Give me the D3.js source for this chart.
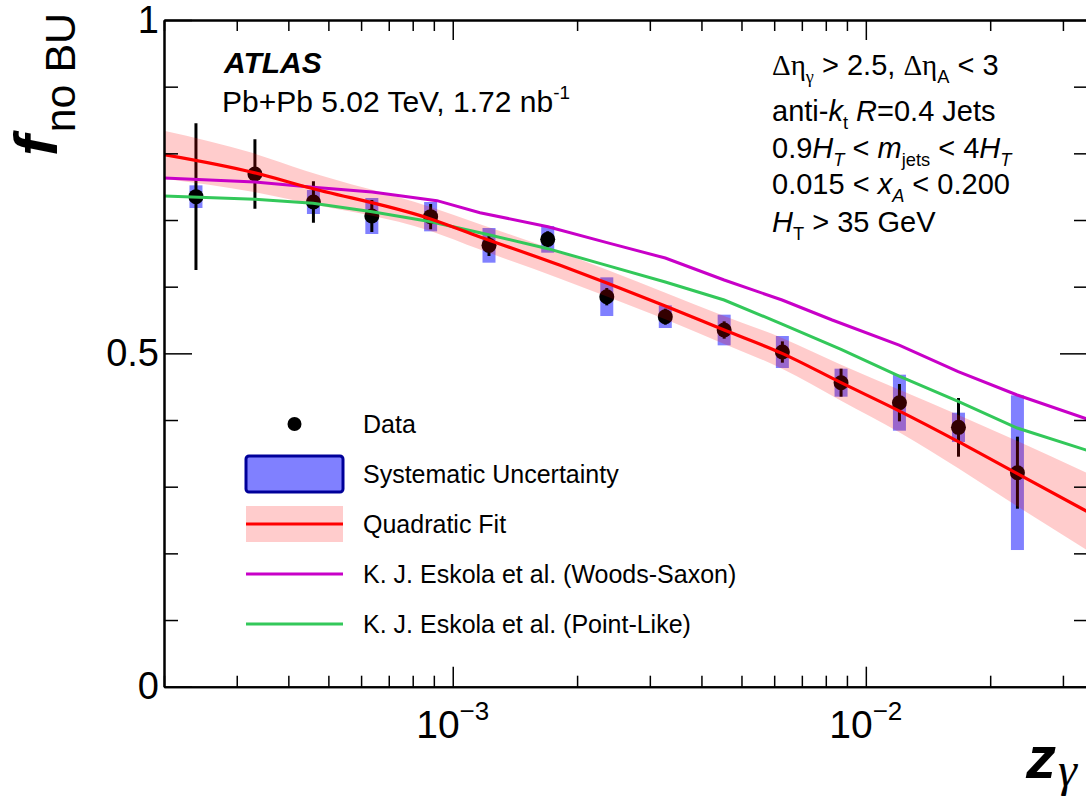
<!DOCTYPE html>
<html>
<head>
<meta charset="utf-8">
<script src="https://cdn.jsdelivr.net/npm/d3@7"></script>
<style>
  body { margin: 0; background: #fff; }
  svg { display: block; font-family: "Liberation Sans", Arial, Helvetica, sans-serif; }
</style>
</head>
<body>
<div id="chart"></div>
<script>
const zGamma  = [2.39e-4, 3.32e-4, 4.60e-4, 6.37e-4, 8.84e-4, 1.224e-3, 1.698e-3, 2.36e-3, 3.27e-3, 4.54e-3, 6.28e-3, 8.71e-3, 1.206e-2, 1.676e-2, 2.328e-2];
const fNoBU   = [0.735, 0.769, 0.727, 0.706, 0.705, 0.662, 0.671, 0.585, 0.555, 0.535, 0.502, 0.456, 0.426, 0.389, 0.321];
const statErr = [0.110, 0.052, 0.031, 0.024, 0.019, 0.016, 0.012, 0.013, 0.012, 0.013, 0.016, 0.021, 0.028, 0.044, 0.054];
const sysErr  = [0.017, 0.005, 0.018, 0.027, 0.022, 0.026, 0.020, 0.029, 0.017, 0.023, 0.024, 0.021, 0.042, 0.022, 0.116];

// quadratic fit curve + its band
const fitZ   = [2.0e-4, 3.3e-4, 4.4e-4, 8.8e-4, 1.16e-3, 1.82e-3, 2.37e-3, 3.27e-3, 4.54e-3, 6.27e-3, 8.71e-3, 1.21e-2, 1.67e-2, 2.32e-2, 3.45e-2];
const fitVal = [0.798, 0.771, 0.750, 0.702, 0.675, 0.632, 0.605, 0.571, 0.535, 0.500, 0.456, 0.413, 0.368, 0.320, 0.262];
const fitErr = [0.036, 0.029, 0.024, 0.018, 0.019, 0.020, 0.020, 0.020, 0.021, 0.023, 0.027, 0.032, 0.040, 0.049, 0.058];

// Eskola et al. predictions
const wsZ   = [2.0e-4, 3.32e-4, 4.59e-4, 6.38e-4, 9.16e-4, 1.164e-3, 1.70e-3, 2.40e-3, 3.27e-3, 4.54e-3, 6.27e-3, 8.29e-3, 1.204e-2, 1.673e-2, 2.325e-2, 3.45e-2];
const wsVal = [0.763, 0.757, 0.749, 0.742, 0.729, 0.711, 0.690, 0.665, 0.643, 0.610, 0.580, 0.550, 0.5125, 0.4725, 0.4375, 0.401];
const plZ   = [2.0e-4, 3.32e-4, 4.59e-4, 6.38e-4, 8.86e-4, 1.164e-3, 1.70e-3, 2.36e-3, 3.27e-3, 4.54e-3, 6.27e-3, 8.71e-3, 1.204e-2, 1.673e-2, 2.325e-2, 3.45e-2];
const plVal = [0.736, 0.731, 0.725, 0.7125, 0.6975, 0.681, 0.657, 0.632, 0.607, 0.580, 0.544, 0.506, 0.466, 0.428, 0.388, 0.354];

// axes
const xDomain = [2e-4, 0.0345];
const xMajor = [1e-3, 1e-2];
const xMajorBase = ["10", "10"];
const xMajorExp = ["\u22123", "\u22122"];
const yMajor = [0, 0.5, 1];
const yMajorLabels = ["0", "0.5", "1"];

const legendKeys = ["Data", "Systematic Uncertainty", "Quadratic Fit",
  "K. J. Eskola et al. (Woods-Saxon)", "K. J. Eskola et al. (Point-Like)"];

function richText(sel, x, y, size, parts) {
    const t = sel.append("text").attr("x", x).attr("y", y).style("font-size", size + "px");
    let shift = 0;
    parts.forEach(p => {
        const target = p.sub ? size * 0.26 : p.sup ? -size * 0.42 : 0;
        const s = t.append("tspan").text(p.t).attr("dy", target - shift);
        shift = target;
        if (p.sub || p.sup) s.style("font-size", (size * 0.63) + "px");
        if (p.it) s.style("font-style", "italic");
        if (p.b) s.style("font-weight", "bold");
        if (p.serif) s.style("font-family", "'Liberation Serif', 'DejaVu Serif', serif");
    });
    return t;
}

function drawChart() {
    const width = 1086, height = 798;
    const svg = d3.select("#chart").append("svg")
        .attr("width", width).attr("height", height);

    const left = 164, right = 1088, top = 20, bottom = 686.7;

    const x = d3.scaleLog().domain(xDomain).range([left, right]);
    const y = d3.scaleLinear().domain([0, 1]).range([bottom, top]);

    svg.append("clipPath").attr("id", "plotclip")
      .append("rect")
        .attr("x", left).attr("y", top)
        .attr("width", right - left).attr("height", bottom - top);

    const plot = svg.append("g").attr("clip-path", "url(#plotclip)");

    const pts = zGamma.map((z, i) => ({ z: z, v: fNoBU[i], st: statErr[i], sy: sysErr[i] }));

    // systematic boxes
    plot.selectAll("rect.sys")
      .data(pts)
      .enter().append("rect")
        .attr("class", "sys")
        .attr("x", d => x(d.z) - 6.5)
        .attr("width", 13)
        .attr("y", d => y(d.v + d.sy))
        .attr("height", d => y(d.v - d.sy) - y(d.v + d.sy))
        .style("fill", "#8080ff");

    // stat error bars
    plot.selectAll("line.stat")
      .data(pts)
      .enter().append("line")
        .attr("x1", d => x(d.z)).attr("x2", d => x(d.z))
        .attr("y1", d => y(d.v - d.st)).attr("y2", d => y(d.v + d.st))
        .style("stroke", "black").style("stroke-width", 3);

    plot.selectAll("circle.pt")
      .data(pts)
      .enter().append("circle")
        .attr("cx", d => x(d.z)).attr("cy", d => y(d.v))
        .attr("r", 7.5)
        .style("fill", "black");

    // fit band on top (transparent red)
    const fit = fitZ.map((z, i) => ({ z: z, v: fitVal[i], e: fitErr[i] }));
    plot.append("path")
        .datum(fit)
        .attr("d", d3.area()
            .x(d => x(d.z))
            .y0(d => y(d.v - d.e))
            .y1(d => y(d.v + d.e))
            .curve(d3.curveMonotoneX))
        .style("fill", "red").style("fill-opacity", 0.2);

    const line = d3.line().x(d => x(d.z)).y(d => y(d.v));

    plot.append("path")
        .datum(wsZ.map((z, i) => ({ z: z, v: wsVal[i] })))
        .attr("d", line)
        .style("fill", "none").style("stroke", "#c800c8").style("stroke-width", 3);

    plot.append("path")
        .datum(plZ.map((z, i) => ({ z: z, v: plVal[i] })))
        .attr("d", line)
        .style("fill", "none").style("stroke", "#33c85a").style("stroke-width", 3);

    plot.append("path")
        .datum(fit)
        .attr("d", line.curve(d3.curveMonotoneX))
        .style("fill", "none").style("stroke", "#ff0000").style("stroke-width", 3.2);

    // axes -- ticks point inwards, ROOT style
    const xMinor = x.ticks().filter(t => !xMajor.some(m => Math.abs(m - t) < 1e-12));
    const yMinor = d3.range(0, 11).map(i => i / 10).filter(v => !yMajor.includes(v));

    function styleAxis(g) {
        g.selectAll("path.domain").style("stroke", "black").style("stroke-width", 2);
        g.selectAll(".tick line").style("stroke", "black").style("stroke-width", 1.5);
    }

    [[d3.axisBottom, bottom], [d3.axisTop, top]].forEach(([ax, pos]) => {
        svg.append("g").attr("transform", `translate(0,${pos})`)
            .call(ax(x).tickValues(xMinor).tickSize(-11).tickSizeOuter(0).tickFormat(""))
            .call(styleAxis);
        svg.append("g").attr("transform", `translate(0,${pos})`)
            .call(ax(x).tickValues(xMajor).tickSize(-20).tickSizeOuter(0).tickFormat(""))
            .call(styleAxis);
    });

    [[d3.axisLeft, left], [d3.axisRight, right]].forEach(([ax, pos]) => {
        svg.append("g").attr("transform", `translate(${pos},0)`)
            .call(ax(y).tickValues(yMinor).tickSize(-14).tickSizeOuter(0).tickFormat(""))
            .call(styleAxis);
    });
    svg.append("g").attr("transform", `translate(${right},0)`)
        .call(d3.axisRight(y).tickValues(yMajor).tickSize(-28).tickSizeOuter(0).tickFormat(""))
        .call(styleAxis);

    const yAx = svg.append("g").attr("transform", `translate(${left},0)`)
        .call(d3.axisLeft(y).tickValues(yMajor).tickSize(-28).tickSizeOuter(0).tickPadding(5)
            .tickFormat((d, i) => yMajorLabels[i]))
        .call(styleAxis);
    yAx.selectAll("text")
        .style("font-size", "38px").style("fill", "black")
        .style("font-family", "'Liberation Sans', Arial, sans-serif");

    // x tick labels 10^-n
    xMajor.forEach((t, i) => {
        const lab = svg.append("text")
            .attr("x", x(t)).attr("y", 738)
            .attr("text-anchor", "middle")
            .style("font-size", "39px");
        lab.append("tspan").text(xMajorBase[i]);
        lab.append("tspan").text(xMajorExp[i]).attr("dy", -18).style("font-size", "26px");
    });

    // axis titles
    const yt = svg.append("text")
        .attr("transform", "translate(57,156) rotate(-90)");
    yt.append("tspan").text("f").style("font-size", "62px")
        .style("font-weight", "bold").style("font-style", "italic");
    yt.append("tspan").text("no BU").attr("dy", 18).attr("dx", 3).style("font-size", "43px");

    const xt = svg.append("text").attr("x", 1026).attr("y", 778);
    xt.append("tspan").text("z").style("font-size", "60px")
        .style("font-weight", "bold").style("font-style", "italic");
    xt.append("tspan").text("\u03b3").attr("dy", 8).attr("dx", 2)
        .style("font-size", "48px").style("font-style", "italic")
        .style("font-family", "'Liberation Serif', 'DejaVu Serif', serif");

    // ATLAS label
    richText(svg, 224, 73, 30, [{ t: "ATLAS", b: true, it: true }]);
    richText(svg, 222, 112, 30, [{ t: "Pb+Pb 5.02 TeV, 1.72 nb" }, { t: "-1", sup: true }]);

    // selection text
    const rx = 772, fs = 29;
    richText(svg, rx, 75, fs, [
        { t: "\u0394\u03b7", serif: true }, { t: "\u03b3", sub: true, serif: true },
        { t: " > 2.5, " }, { t: "\u0394\u03b7", serif: true }, { t: "A", sub: true }, { t: " < 3" }]);
    richText(svg, rx, 121, fs, [
        { t: "anti-" }, { t: "k", it: true }, { t: "t", sub: true },
        { t: " " }, { t: "R", it: true }, { t: "=0.4 Jets" }]);
    richText(svg, rx, 158, fs, [
        { t: "0.9" }, { t: "H", it: true }, { t: "T", sub: true, it: true },
        { t: " < " }, { t: "m", it: true }, { t: "jets", sub: true },
        { t: " < 4" }, { t: "H", it: true }, { t: "T", sub: true, it: true }]);
    richText(svg, rx, 194, fs, [
        { t: "0.015 < " }, { t: "x", it: true }, { t: "A", sub: true, it: true }, { t: " < 0.200" }]);
    richText(svg, rx, 232, fs, [
        { t: "H", it: true }, { t: "T", sub: true }, { t: " > 35 GeV" }]);

    // legend
    const lx = 246, lw = 97, ly = 424, lh = 50;
    const leg = svg.append("g");
    leg.append("circle").attr("cx", lx + lw / 2).attr("cy", ly).attr("r", 7).style("fill", "black");
    leg.append("rect").attr("x", lx).attr("y", ly + lh - 18).attr("width", lw).attr("height", 36)
        .attr("rx", 3)
        .style("fill", "#8080ff").style("stroke", "#000099").style("stroke-width", 3);
    leg.append("rect").attr("x", lx).attr("y", ly + 2 * lh - 18).attr("width", lw).attr("height", 36)
        .style("fill", "red").style("fill-opacity", 0.2);
    const legLines = [["#ff0000", 2], ["#c800c8", 3], ["#33c85a", 4]];
    legLines.forEach(([c, i]) => {
        leg.append("line")
            .attr("x1", lx).attr("x2", lx + lw)
            .attr("y1", ly + i * lh).attr("y2", ly + i * lh)
            .style("stroke", c).style("stroke-width", 3);
    });
    leg.selectAll("text.lab")
      .data(legendKeys)
      .enter().append("text")
        .attr("x", 363)
        .attr("y", (d, i) => ly + i * lh + 9)
        .style("font-size", "25px")
        .text(d => d);
}

drawChart();
</script>
</body>
</html>
